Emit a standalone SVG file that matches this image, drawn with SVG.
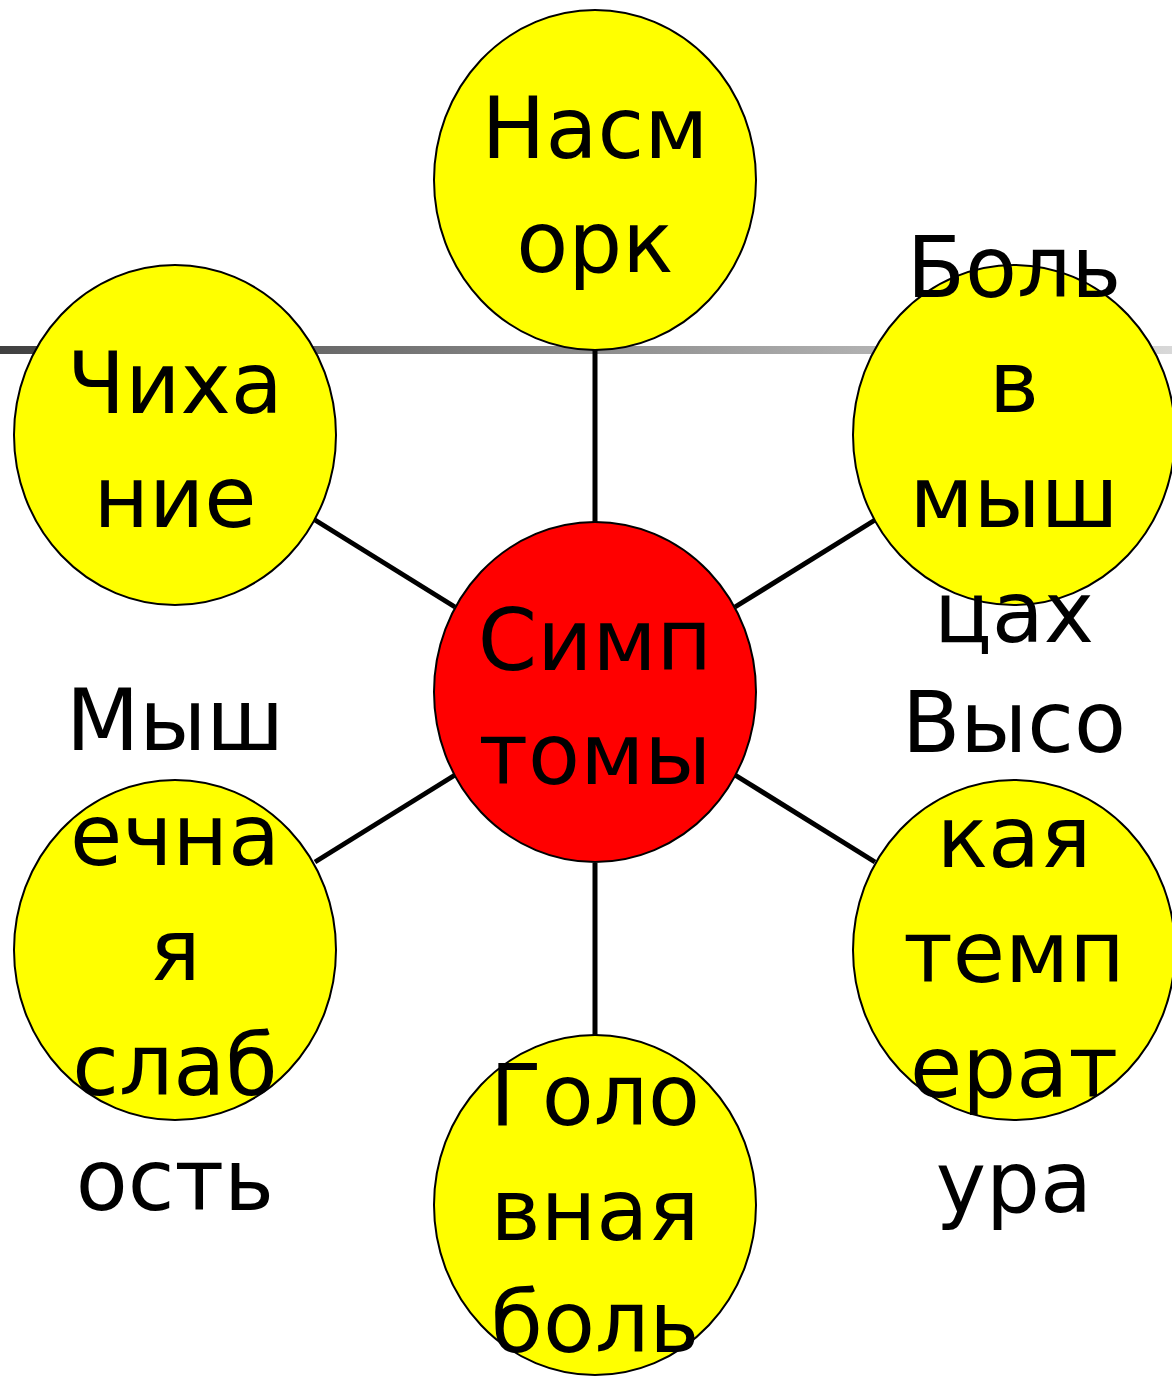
<svg xmlns="http://www.w3.org/2000/svg" width="1172" height="1377" viewBox="0 0 1172 1377">
<defs>
<linearGradient id="g" x1="0" y1="0" x2="1" y2="0">
<stop offset="0" stop-color="#404040"/>
<stop offset="1" stop-color="#d8d8d8"/>
</linearGradient>
</defs>
<style>
.n{fill:#ffff00;stroke:#000;stroke-width:2}
.c{fill:#ff0000;stroke:#000;stroke-width:2}
.t{font-family:"DejaVu Sans",Verdana,sans-serif;font-size:85px;fill:#000;text-anchor:middle}
.e{stroke:#000;stroke-width:5;fill:none}
</style>
<rect width="1172" height="1377" fill="#fff"/>
<rect x="0" y="346" width="1172" height="8" fill="url(#g)"/>
<g id="connectors">
<line class="e" x1="595" y1="350" x2="595" y2="522"/>
<line class="e" x1="595" y1="863" x2="595" y2="1035"/>
<line class="e" x1="315" y1="520" x2="455" y2="607"/>
<line class="e" x1="735" y1="607" x2="875" y2="520"/>
<line class="e" x1="315" y1="862" x2="455" y2="775"/>
<line class="e" x1="735" y1="775" x2="875" y2="862"/>
</g>
<g id="n-nasmork"><ellipse class="n" cx="595" cy="180" rx="161" ry="170"/>
<text class="t" x="595" y="158">Насм</text><text class="t" x="595" y="272">орк</text></g>
<g id="n-chihanie"><ellipse class="n" cx="175" cy="435" rx="161" ry="170"/>
<text class="t" x="175" y="413">Чиха</text><text class="t" x="175" y="527">ние</text></g>
<g id="n-bol"><ellipse class="n" cx="1014" cy="435" rx="161" ry="170"/>
<text class="t" x="1014" y="297">Боль</text><text class="t" x="1014" y="412">в</text><text class="t" x="1014" y="527">мыш</text><text class="t" x="1014" y="642">цах</text></g>
<g id="n-center"><ellipse class="c" cx="595" cy="692" rx="161" ry="170"/>
<text class="t" x="595" y="670">Симп</text><text class="t" x="595" y="784">томы</text></g>
<g id="n-slabost"><ellipse class="n" cx="175" cy="950" rx="161" ry="170"/>
<text class="t" x="175" y="750">Мыш</text><text class="t" x="175" y="865">ечна</text><text class="t" x="175" y="980">я</text><text class="t" x="175" y="1095">слаб</text><text class="t" x="175" y="1210">ость</text></g>
<g id="n-temp"><ellipse class="n" cx="1014" cy="950" rx="161" ry="170"/>
<text class="t" x="1014" y="752">Высо</text><text class="t" x="1014" y="867">кая</text><text class="t" x="1014" y="982">темп</text><text class="t" x="1014" y="1097">ерат</text><text class="t" x="1014" y="1212">ура</text></g>
<g id="n-golova"><ellipse class="n" cx="595" cy="1205" rx="161" ry="170"/>
<text class="t" x="595" y="1125">Голо</text><text class="t" x="595" y="1240">вная</text><text class="t" x="595" y="1352">боль</text></g>
</svg>
